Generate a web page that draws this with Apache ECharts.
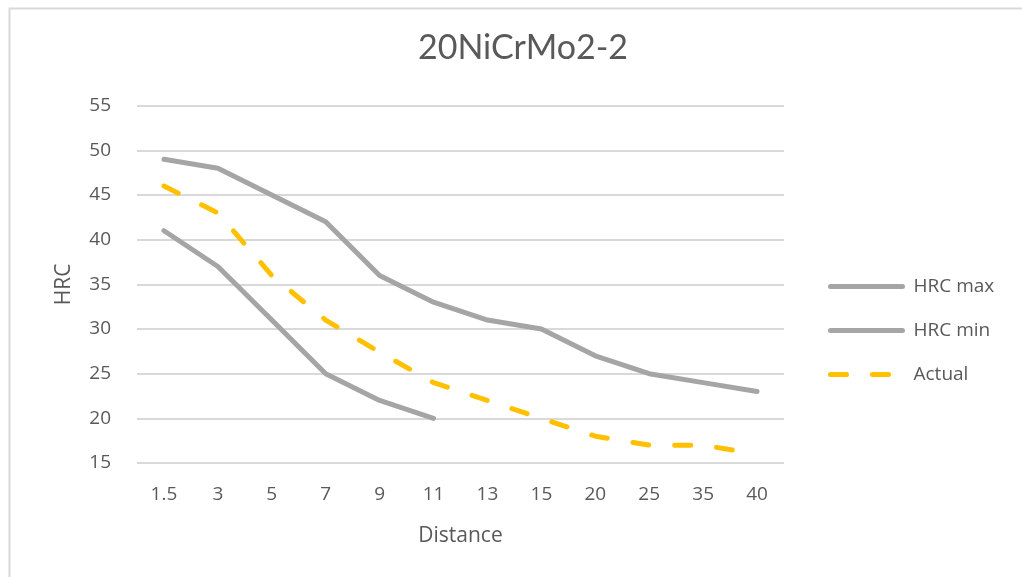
<!DOCTYPE html>
<html>
<head>
<meta charset="utf-8">
<script src="https://cdn.jsdelivr.net/npm/echarts@6/dist/echarts.min.js"></script>
<style>
html,body{margin:0;padding:0;background:#fff;}
#chart{width:1022px;height:577px;}
</style>
</head>
<body>
<div id="chart"></div>
<script>
var categories = ['1.5','3','5','7','9','11','13','15','20','25','35','40'];
var hrcMax = [49, 48, 45, 42, 36, 33, 31, 30, 27, 25, 24, 23];
var hrcMin = [41, 37, 31, 25, 22, 20, null, null, null, null, null, null];
var actual = [46, 43, 36, 31, 27.4, 24, 22, 20, 18, 17, 17, 16];
var titleText = '20NiCrMo2-2';
var xName = 'Distance';
var yName = 'HRC';

var TFONT = 'Lato, "Open Sans", sans-serif';
var FONT = '"Open Sans", Lato, sans-serif';
var chart = echarts.init(document.getElementById('chart'));
chart.setOption({
  backgroundColor: '#ffffff',
  animation: false,
  graphic: [{
    type: 'rect',
    shape: {x: 9.5, y: 8.5, width: 1100, height: 1000},
    style: {fill: 'none', stroke: '#D9D9D9', lineWidth: 2},
    silent: true
  }],
  title: {
    text: titleText,
    left: 518, textAlign: 'center',
    top: 26,
    textStyle: {fontFamily: TFONT, fontSize: 34, fontWeight: 'normal', color: '#595959'}
  },
  legend: {
    orient: 'vertical',
    left: 828,
    top: 277,
    padding: 0,
    itemWidth: 72,
    itemHeight: 14,
    itemGap: 25,
    itemStyle: {opacity: 0, borderWidth: 0},
    lineStyle: {width: 5, cap: 'round'},
    textStyle: {fontFamily: FONT, fontSize: 19, color: '#595959', padding: [0, 0, 0, 6]},
    data: ['HRC max', 'HRC min', 'Actual']
  },
  grid: {left: 137, right: 238, top: 105.7, bottom: 114},
  xAxis: {
    type: 'category',
    data: categories,
    boundaryGap: true,
    name: xName,
    nameLocation: 'middle',
    nameGap: 63,
    nameTextStyle: {fontFamily: FONT, fontSize: 21, color: '#595959'},
    axisLine: {show: false},
    axisTick: {show: false},
    axisLabel: {fontFamily: FONT, fontSize: 19, color: '#595959', margin: 22}
  },
  yAxis: {
    type: 'value',
    min: 15, max: 55, interval: 5,
    name: yName,
    nameLocation: 'middle',
    nameGap: 62,
    nameTextStyle: {fontFamily: FONT, fontSize: 21, color: '#595959'},
    axisLine: {show: false},
    axisTick: {show: false},
    axisLabel: {fontFamily: FONT, fontSize: 19, color: '#595959', margin: 26},
    splitLine: {lineStyle: {color: '#D9D9D9', width: 2}}
  },
  series: [
    {name: 'HRC max', type: 'line', data: hrcMax, symbol: 'none', color: '#A5A5A5',
     lineStyle: {color: '#A5A5A5', width: 5, cap: 'round', join: 'round'}},
    {name: 'HRC min', type: 'line', data: hrcMin, symbol: 'none', color: '#A5A5A5',
     lineStyle: {color: '#A5A5A5', width: 5, cap: 'round', join: 'round'}},
    {name: 'Actual', type: 'line', data: actual, symbol: 'none', color: '#FFC000',
     lineStyle: {color: '#FFC000', width: 5, type: [16, 26], cap: 'round', join: 'round'}}
  ]
});
</script>
</body>
</html>
